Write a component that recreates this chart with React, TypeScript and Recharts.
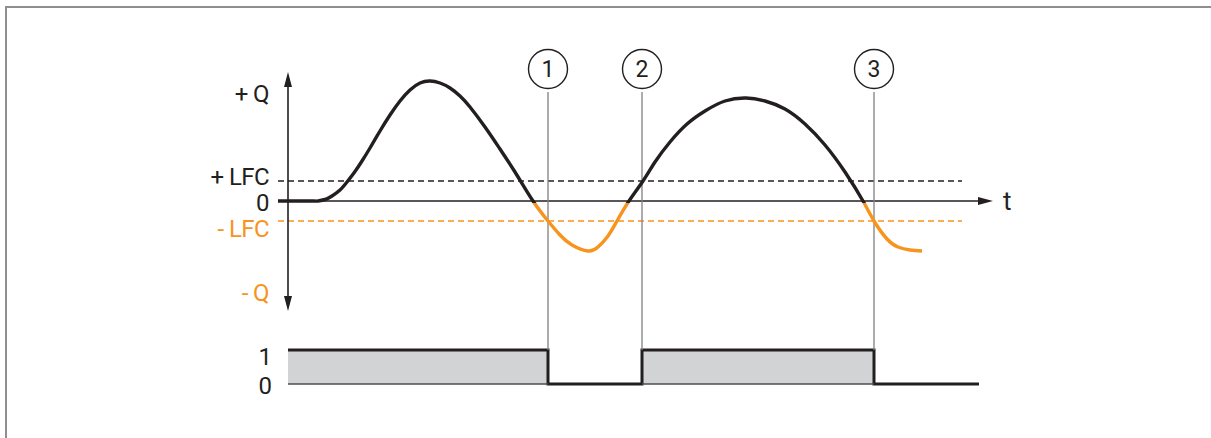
import {
  ComposedChart,
  Line,
  Area,
  XAxis,
  YAxis,
  ReferenceLine,
  ReferenceDot,
} from "recharts";

// signal Q over time (t in arbitrary units, Q normalised so that LFC = 0.2)
const TIME = [
  -1, 2.5, 3.0, 3.7, 4.4, 5.2, 5.9, 6.7, 7.4, 8.2, 9.2, 10.2, 11.2, 12.2, 13.2,
  14.2, 15.2, 16.2, 17.2, 18.2, 19.7, 21.2, 22.7, 24.5, 26.0, 27.2, 28.4, 30.0,
  31.0, 32.0, 32.9, 34.1, 35.5, 36.7, 38.2, 39.9, 41.7, 43.7, 45.8, 47.7, 49.7,
  51.7, 53.7, 55.7, 57.5, 58.6, 59.9, 61.0, 62.2, 63.4,
];
const Q = [
  0, 0, 0, 0.015, 0.05, 0.11, 0.19, 0.295, 0.4, 0.53, 0.7, 0.86, 1.0, 1.11, 1.18,
  1.2, 1.18, 1.13, 1.05, 0.94, 0.74, 0.52, 0.29, 0, -0.2, -0.34, -0.44, -0.5,
  -0.46, -0.35, -0.2, 0, 0.2, 0.39, 0.59, 0.77, 0.9, 1.0, 1.03, 1.0, 0.92,
  0.77, 0.56, 0.29, 0, -0.2, -0.38, -0.46, -0.49, -0.5,
];

// switching output
const OUT_TIME = [0, 26.0, 35.4, 58.6, 69.1];
const OUT_STATE = [1, 0, 1, 0, 0];

const LFC = 0.2;
const Q_TICKS = [1.08, LFC, 0, -LFC, -0.91];
const Q_TICK_LABELS = ["+ Q", "+ LFC", "0", "- LFC", "- Q"];
const OUT_TICKS = [1, 0];
const OUT_TICK_LABELS = ["1", "0"];

const BLACK = "#231f20";
const ORANGE = "#f7941e";
const GREY = "#808080";
const FONT = "Roboto, 'Liberation Sans', Arial, sans-serif";

// layout
const W = 1211;
const H = 438;
const PLOT_LEFT = 278;
const PLOT_TOP = 40;
const PLOT_BOTTOM = 430;
const Q_ZERO_Y = 201;
const Q_UNIT = 100;
const OUT_ZERO_Y = 384;
const OUT_UNIT = 34;
const T_DOMAIN: [number, number] = [-1, 71];
const T_UNIT = 10;
const Q_DOMAIN: [number, number] = [
  (Q_ZERO_Y - PLOT_BOTTOM) / Q_UNIT,
  (Q_ZERO_Y - PLOT_TOP) / Q_UNIT,
];
const OUT_DOMAIN: [number, number] = [
  (OUT_ZERO_Y - PLOT_BOTTOM) / OUT_UNIT,
  (OUT_ZERO_Y - PLOT_TOP) / OUT_UNIT,
];
const Q_AXIS_TOP = 1.29;
const Q_AXIS_BOTTOM = -1.1;
const T_AXIS_END = 70.5;
const DASH_END = 67.4;
const CIRCLE_Q = 1.32;
const MARKER_TOP_OUT = 8.59;

const qData = TIME.map((t, i) => ({ t, q: Q[i] }));
const outData = OUT_TIME.map((t, i) => ({ t, state: OUT_STATE[i] }));
const switches = OUT_TIME.filter(
  (_, i) => i > 0 && i < OUT_TIME.length - 1 && OUT_STATE[i] !== OUT_STATE[i - 1]
);
const highSpans = OUT_TIME.slice(0, -1)
  .map((t, i) => ({ from: t, to: OUT_TIME[i + 1], on: OUT_STATE[i] === 1 }))
  .filter((s) => s.on);

const Q_NUDGE = [0, -5, 1, 7, 0];
const OUT_NUDGE = [6, 1];

function qTick(props: any) {
  const { x, y, payload } = props;
  const i = Q_TICKS.indexOf(payload.value);
  return (
    <text x={x} y={y + Q_NUDGE[i]} dy="0.36em" textAnchor="end" fill={i > 2 ? ORANGE : BLACK} fontSize={24} letterSpacing={-0.6} fontFamily={FONT}>
      {Q_TICK_LABELS[i]}
    </text>
  );
}

function outTick(props: any) {
  const { x, y, payload } = props;
  const i = OUT_TICKS.indexOf(payload.value);
  return (
    <text x={x} y={y + OUT_NUDGE[i]} dy="0.36em" textAnchor="end" fill={BLACK} fontSize={24} fontFamily={FONT}>
      {OUT_TICK_LABELS[i]}
    </text>
  );
}

function head(tx: number, ty: number, ux: number, uy: number, color: string) {
  const bx = tx - ux * 15;
  const by = ty - uy * 15;
  const nx = -uy * 4;
  const ny = ux * 4;
  return <polygon points={`${tx},${ty} ${bx + nx},${by + ny} ${bx - nx},${by - ny}`} fill={color} />;
}

function arrowShape(both: boolean) {
  return (p: any) => {
    const { x1, y1, x2, y2 } = p;
    const len = Math.hypot(x2 - x1, y2 - y1) || 1;
    const ux = (x2 - x1) / len;
    const uy = (y2 - y1) / len;
    const sx = both ? x1 + ux * 12 : x1;
    const sy = both ? y1 + uy * 12 : y1;
    return (
      <g>
        <line x1={sx} y1={sy} x2={x2 - ux * 12} y2={y2 - uy * 12} stroke={BLACK} strokeWidth={1.6} />
        {head(x2, y2, ux, uy, BLACK)}
        {both && head(x1, y1, -ux, -uy, BLACK)}
      </g>
    );
  };
}

export default function App() {
  const plotWidth = (T_DOMAIN[1] - T_DOMAIN[0]) * T_UNIT;
  return (
    <div style={{ position: "absolute", left: 0, top: 0, width: W, height: H, overflow: "hidden", background: "#fff" }}>
      <div
        style={{
          position: "absolute",
          left: 5,
          top: 6,
          width: W,
          height: H,
          borderTop: "2px solid #8f8f8f",
          borderLeft: "2px solid #8f8f8f",
        }}
      />
      <div style={{ position: "absolute", left: 0, top: 0 }}>
        <ComposedChart
          width={W}
          height={H}
          margin={{ top: PLOT_TOP, right: W - PLOT_LEFT - plotWidth, bottom: H - PLOT_BOTTOM, left: PLOT_LEFT - 2 }}
        >
          <defs>
            <linearGradient id="qSplit" gradientUnits="userSpaceOnUse" x1="0" y1="0" x2="0" y2={H}>
              <stop offset={(Q_ZERO_Y + 2) / H} stopColor={BLACK} />
              <stop offset={(Q_ZERO_Y + 2) / H} stopColor={ORANGE} />
            </linearGradient>
          </defs>
          <XAxis type="number" dataKey="t" domain={T_DOMAIN} allowDataOverflow hide />
          <YAxis
            yAxisId="out"
            type="number"
            domain={OUT_DOMAIN}
            allowDataOverflow
            width={1}
            ticks={OUT_TICKS}
            interval={0}
            tick={outTick}
            tickSize={0}
            tickMargin={6}
            axisLine={false}
            tickLine={false}
          />
          <YAxis
            yAxisId="q"
            type="number"
            domain={Q_DOMAIN}
            allowDataOverflow
            width={1}
            ticks={Q_TICKS}
            interval={0}
            tick={qTick}
            tickSize={0}
            tickMargin={8}
            axisLine={false}
            tickLine={false}
          />

          <ReferenceLine
            yAxisId="q"
            segment={[{ x: T_DOMAIN[0], y: LFC }, { x: DASH_END, y: LFC }]}
            stroke={BLACK}
            strokeWidth={1.3}
            strokeDasharray="6 4"
          />
          <ReferenceLine
            yAxisId="q"
            segment={[{ x: T_DOMAIN[0], y: -LFC }, { x: DASH_END, y: -LFC }]}
            stroke={ORANGE}
            strokeWidth={1.3}
            strokeDasharray="6 4"
          />
          <ReferenceLine
            yAxisId="q"
            segment={[{ x: T_DOMAIN[0], y: 0 }, { x: T_AXIS_END, y: 0 }]}
            shape={arrowShape(false)}
            label={{ value: "t", position: "right", offset: 10, fill: BLACK, fontSize: 26, fontFamily: FONT }}
          />
          <ReferenceLine
            yAxisId="q"
            segment={[{ x: 0, y: Q_AXIS_BOTTOM }, { x: 0, y: Q_AXIS_TOP }]}
            shape={arrowShape(true)}
          />
          {switches.map((t) => (
            <ReferenceLine
              key={`v${t}`}
              yAxisId="out"
              segment={[{ x: t, y: MARKER_TOP_OUT }, { x: t, y: 1 }]}
              stroke={GREY}
              strokeWidth={1.3}
            />
          ))}
          {highSpans.map((s) => (
            <ReferenceLine
              key={`b${s.from}`}
              yAxisId="out"
              segment={[{ x: s.from, y: 0 }, { x: s.to, y: 0 }]}
              stroke="#4d4d4d"
              strokeWidth={1.6}
            />
          ))}

          <Area
            yAxisId="out"
            data={outData}
            dataKey="state"
            type="stepAfter"
            baseValue={0}
            stroke={BLACK}
            strokeWidth={3}
            fill="#d1d3d4"
            fillOpacity={1}
            isAnimationActive={false}
          />
          <Line
            yAxisId="q"
            data={qData}
            dataKey="q"
            type="natural"
            stroke="url(#qSplit)"
            strokeWidth={3.4}
            dot={false}
            activeDot={false}
            isAnimationActive={false}
          />

          {switches.map((t, i) => (
            <ReferenceDot
              key={`c${t}`}
              yAxisId="q"
              x={t}
              y={CIRCLE_Q}
              r={19.5}
              fill="#fff"
              stroke={BLACK}
              strokeWidth={1.4}
              label={{ value: String(i + 1), position: "center", fill: BLACK, fontSize: 23, fontFamily: FONT }}
            />
          ))}
        </ComposedChart>
      </div>
    </div>
  );
}
